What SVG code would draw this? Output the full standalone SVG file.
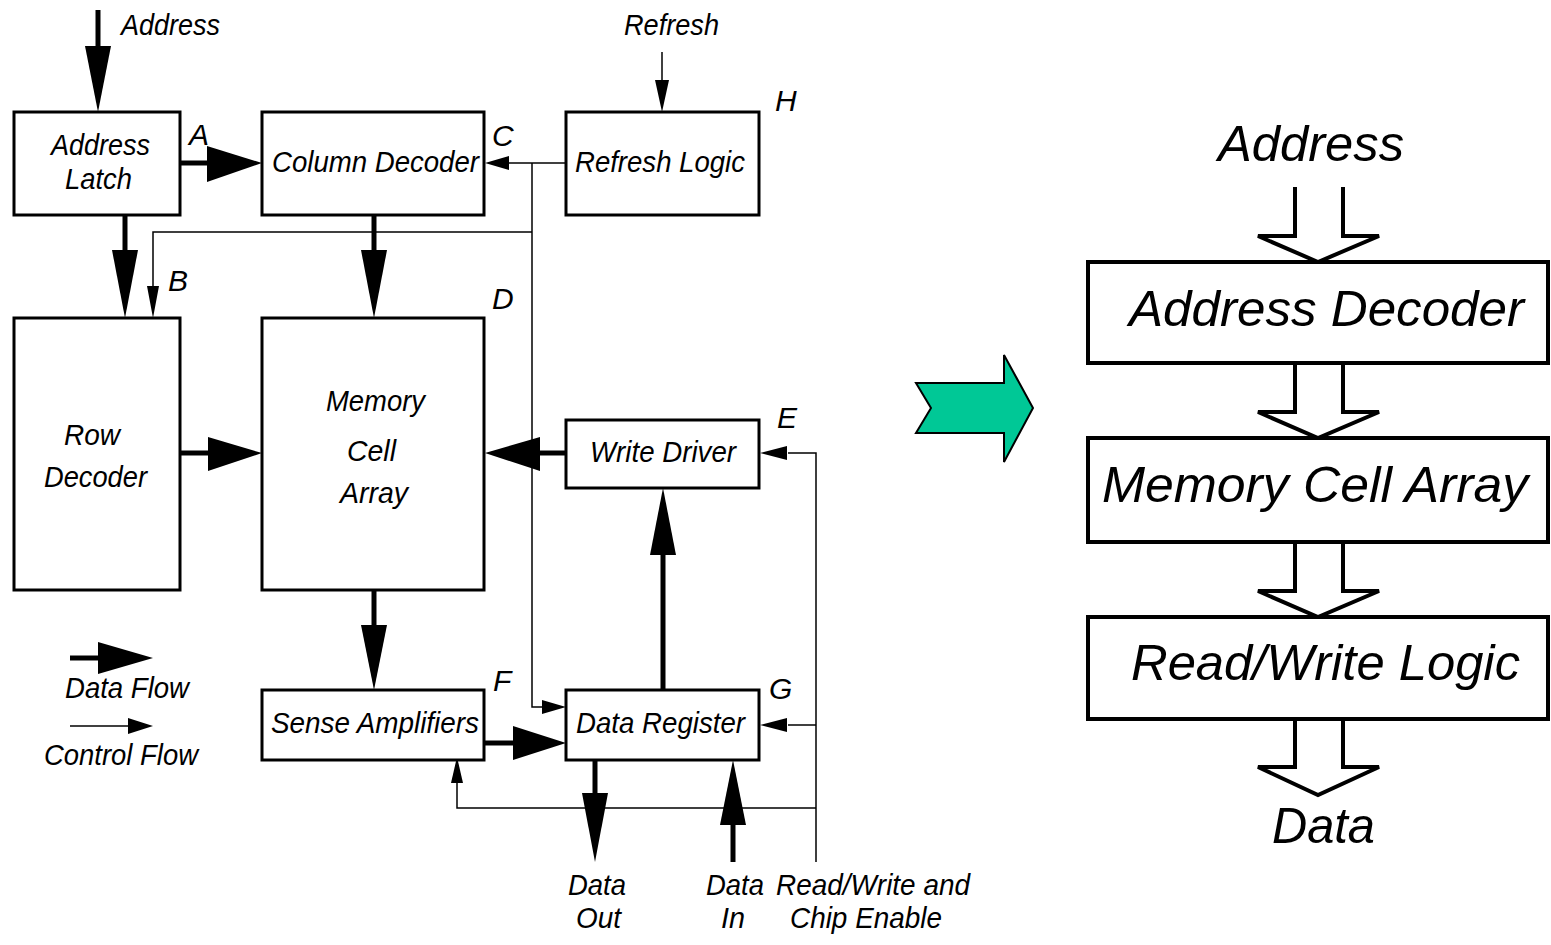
<svg xmlns="http://www.w3.org/2000/svg" width="1551" height="945" viewBox="0 0 1551 945">
  <style>
    .box { fill: #fff; stroke: #000; stroke-width: 3; }
    .bigbox { fill: #fff; stroke: #000; stroke-width: 4; }
    .data { stroke: #000; stroke-width: 5; fill: none; }
    .ctrl { stroke: #000; stroke-width: 1.5; fill: none; }
    .head { fill: #000; stroke: none; }
    .bus { fill: none; stroke: #000; stroke-width: 4; stroke-linejoin: miter; }
    text { font-family: "Liberation Sans", Arial, sans-serif; font-style: italic; fill: #000; }
    .lbl { font-size: 30px; }
    .big { font-size: 50px; }
  </style>
  <rect width="1551" height="945" fill="#fff"/>

  <!-- connectors (left block diagram) -->
  <g id="connectors">
    <!-- control flow lines -->
    <line class="ctrl" x1="662" y1="52" x2="662" y2="84"/>
    <polygon class="head" points="655,80 669,80 662,112"/>
    <line class="ctrl" x1="566" y1="163" x2="507" y2="163"/>
    <polygon class="head" points="509,156 509,170 485,163"/>
    <path class="ctrl" d="M532,163 V707 H544"/>
    <polygon class="head" points="542,700 542,714 566,707"/>
    <path class="ctrl" d="M532,232 H153 V288"/>
    <polygon class="head" points="147,286 159,286 153,318"/>
    <path class="ctrl" d="M816,862 V453 H788"/>
    <polygon class="head" points="787,446 787,460 760,453"/>
    <path class="ctrl" d="M816,725 H788"/>
    <polygon class="head" points="787,718 787,732 760,725"/>
    <path class="ctrl" d="M816,808 H457 V782"/>
    <polygon class="head" points="451,783 463,783 457,757"/>

    <!-- data flow lines -->
    <line class="data" x1="98" y1="10" x2="98" y2="50"/>
    <polygon class="head" points="85,46 111,46 98,112"/>
    <line class="data" x1="180" y1="163" x2="210" y2="163"/>
    <polygon class="head" points="207,146 207,182 262,163"/>
    <line class="data" x1="125" y1="215" x2="125" y2="253"/>
    <polygon class="head" points="112,250 138,250 125,318"/>
    <line class="data" x1="374" y1="215" x2="374" y2="253"/>
    <polygon class="head" points="361,250 387,250 374,318"/>
    <line class="data" x1="180" y1="453" x2="211" y2="453"/>
    <polygon class="head" points="208,437 208,471 262,453"/>
    <line class="data" x1="566" y1="453" x2="537" y2="453"/>
    <polygon class="head" points="540,437 540,471 485,453"/>
    <line class="data" x1="374" y1="590" x2="374" y2="628"/>
    <polygon class="head" points="361,625 387,625 374,690"/>
    <line class="data" x1="484" y1="743" x2="516" y2="743"/>
    <polygon class="head" points="513,726 513,760 566,743"/>
    <line class="data" x1="663" y1="690" x2="663" y2="552"/>
    <polygon class="head" points="650,555 676,555 663,488"/>
    <line class="data" x1="595" y1="760" x2="595" y2="796"/>
    <polygon class="head" points="582,793 608,793 595,862"/>
    <line class="data" x1="733" y1="862" x2="733" y2="822"/>
    <polygon class="head" points="720,825 746,825 733,760"/>
  </g>

  <!-- external labels -->
  <text class="lbl" x="121" y="35" textLength="99" lengthAdjust="spacingAndGlyphs">Address</text>
  <text class="lbl" x="624" y="35" textLength="95" lengthAdjust="spacingAndGlyphs">Refresh</text>
  <text class="lbl" x="189" y="145">A</text>
  <text class="lbl" x="168" y="291">B</text>
  <text class="lbl" x="492" y="146">C</text>
  <text class="lbl" x="492" y="309">D</text>
  <text class="lbl" x="777" y="428">E</text>
  <text class="lbl" x="493" y="691">F</text>
  <text class="lbl" x="769" y="699">G</text>
  <text class="lbl" x="775" y="111">H</text>
  <text class="lbl" x="568" y="895" textLength="58" lengthAdjust="spacingAndGlyphs">Data</text>
  <text class="lbl" x="576" y="928" textLength="45" lengthAdjust="spacingAndGlyphs">Out</text>
  <text class="lbl" x="706" y="895" textLength="58" lengthAdjust="spacingAndGlyphs">Data</text>
  <text class="lbl" x="721" y="928" textLength="24" lengthAdjust="spacingAndGlyphs">In</text>
  <text class="lbl" x="776" y="895" textLength="194" lengthAdjust="spacingAndGlyphs">Read/Write and</text>
  <text class="lbl" x="790" y="928" textLength="152" lengthAdjust="spacingAndGlyphs">Chip Enable</text>

  <!-- nodes -->
  <g id="address-latch">
    <rect class="box" x="14" y="112" width="166" height="103"/>
    <text class="lbl" x="51" y="155" textLength="99" lengthAdjust="spacingAndGlyphs">Address</text>
    <text class="lbl" x="65" y="189" textLength="67" lengthAdjust="spacingAndGlyphs">Latch</text>
  </g>
  <g id="column-decoder">
    <rect class="box" x="262" y="112" width="222" height="103"/>
    <text class="lbl" x="272" y="172" textLength="207" lengthAdjust="spacingAndGlyphs">Column Decoder</text>
  </g>
  <g id="refresh-logic">
    <rect class="box" x="566" y="112" width="193" height="103"/>
    <text class="lbl" x="575" y="172" textLength="170" lengthAdjust="spacingAndGlyphs">Refresh Logic</text>
  </g>
  <g id="row-decoder">
    <rect class="box" x="14" y="318" width="166" height="272"/>
    <text class="lbl" x="64" y="445" textLength="56" lengthAdjust="spacingAndGlyphs">Row</text>
    <text class="lbl" x="44" y="487" textLength="103" lengthAdjust="spacingAndGlyphs">Decoder</text>
  </g>
  <g id="memory-cell-array">
    <rect class="box" x="262" y="318" width="222" height="272"/>
    <text class="lbl" x="326" y="411" textLength="99" lengthAdjust="spacingAndGlyphs">Memory</text>
    <text class="lbl" x="347" y="461" textLength="49" lengthAdjust="spacingAndGlyphs">Cell</text>
    <text class="lbl" x="340" y="503" textLength="68" lengthAdjust="spacingAndGlyphs">Array</text>
  </g>
  <g id="write-driver">
    <rect class="box" x="566" y="420" width="193" height="68"/>
    <text class="lbl" x="590" y="462" textLength="146" lengthAdjust="spacingAndGlyphs">Write Driver</text>
  </g>
  <g id="sense-amplifiers">
    <rect class="box" x="262" y="690" width="222" height="70"/>
    <text class="lbl" x="271" y="733" textLength="208" lengthAdjust="spacingAndGlyphs">Sense Amplifiers</text>
  </g>
  <g id="data-register">
    <rect class="box" x="566" y="690" width="193" height="70"/>
    <text class="lbl" x="576" y="733" textLength="169" lengthAdjust="spacingAndGlyphs">Data Register</text>
  </g>

  <!-- legend -->
  <g id="legend">
    <line class="data" x1="70" y1="658" x2="101" y2="658"/>
    <polygon class="head" points="98,642 98,674 153,658"/>
    <text class="lbl" x="65" y="698" textLength="124" lengthAdjust="spacingAndGlyphs">Data Flow</text>
    <line class="ctrl" x1="70" y1="726" x2="130" y2="726"/>
    <polygon class="head" points="128,718 128,734 153,726"/>
    <text class="lbl" x="44" y="765" textLength="154" lengthAdjust="spacingAndGlyphs">Control Flow</text>
  </g>

  <!-- transition arrow -->
  <g id="transition-arrow">
    <polygon points="916,383 1004,383 1004,355 1033,408 1004,462 1004,433 916,433 931,408" fill="#00C896" stroke="#000" stroke-width="2" stroke-linejoin="miter"/>
  </g>

  <!-- simplified block diagram -->
  <g id="simple-connectors">
    <polyline class="bus" points="1295,187 1295,236 1258,236 1318,262 1379,236 1343,236 1343,187"/>
    <polyline class="bus" points="1295,363 1295,412 1258,412 1318,438 1379,412 1343,412 1343,363"/>
    <polyline class="bus" points="1295,542 1295,591 1258,591 1318,617 1379,591 1343,591 1343,542"/>
    <polyline class="bus" points="1295,719 1295,767 1258,767 1318,795 1379,767 1343,767 1343,719"/>
  </g>
  <text class="big" x="1218" y="161" textLength="186" lengthAdjust="spacingAndGlyphs">Address</text>
  <g id="address-decoder">
    <rect class="bigbox" x="1088" y="262" width="460" height="101"/>
    <text class="big" x="1129" y="326" textLength="395" lengthAdjust="spacingAndGlyphs">Address Decoder</text>
  </g>
  <g id="memory-cell-array-simple">
    <rect class="bigbox" x="1088" y="438" width="460" height="104"/>
    <text class="big" x="1102" y="502" textLength="426" lengthAdjust="spacingAndGlyphs">Memory Cell Array</text>
  </g>
  <g id="read-write-logic">
    <rect class="bigbox" x="1088" y="617" width="460" height="102"/>
    <text class="big" x="1131" y="680" textLength="389" lengthAdjust="spacingAndGlyphs">Read/Write Logic</text>
  </g>
  <text class="big" x="1272" y="843" textLength="103" lengthAdjust="spacingAndGlyphs">Data</text>
</svg>
